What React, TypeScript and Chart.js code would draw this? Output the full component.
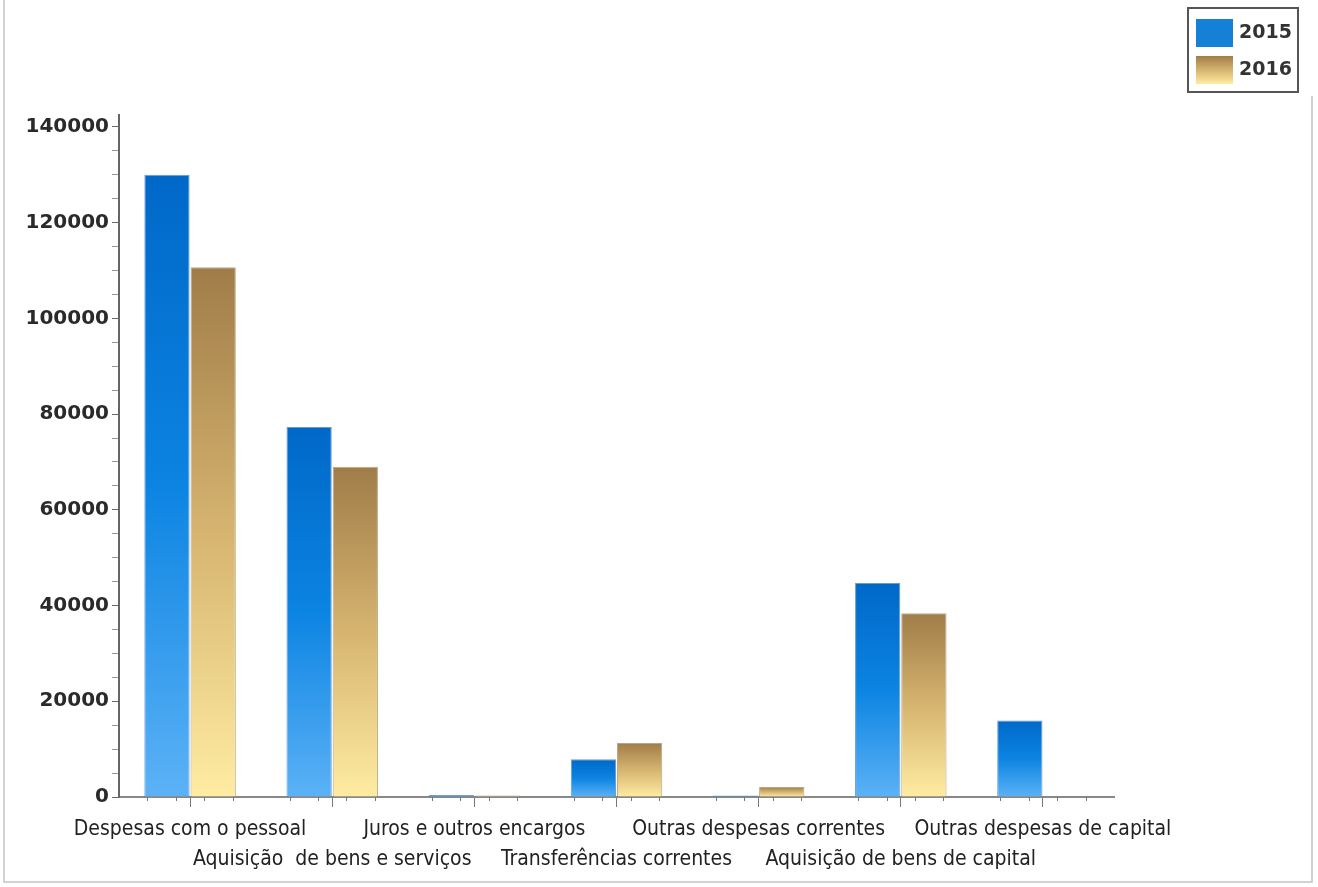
import React, { useEffect, useRef } from "react";
import { Chart, registerables } from "chart.js";

Chart.register(...registerables);

const categories: string[] = [
  "Despesas com o pessoal",
  "Aquisição  de bens e serviços",
  "Juros e outros encargos",
  "Transferências correntes",
  "Outras despesas correntes",
  "Aquisição de bens de capital",
  "Outras despesas de capital",
];

const values2015: number[] = [130000, 77300, 400, 7900, 300, 44700, 16000];
const values2016: number[] = [110700, 69000, 300, 11300, 2100, 38400, 0];

const seriesNames: string[] = ["2015", "2016"];
const yMax = 142500;
const yStepMajor = 20000;
const yStepMinor = 5000;

const blueStops: [number, string][] = [
  [0, "rgb(0,104,200)"],
  [0.5, "rgb(12,132,226)"],
  [1, "rgb(92,178,246)"],
];
const goldStops: [number, string][] = [
  [0, "rgb(160,124,72)"],
  [0.5, "rgb(214,180,112)"],
  [1, "rgb(255,236,162)"],
];

function gradientFill(stops: [number, string][], solid: string) {
  return (ctx: any) => {
    const chart = ctx.chart;
    const y = chart.scales && chart.scales.y;
    if (!y || ctx.type !== "data") return solid;
    const v = ctx.raw as number;
    const top = y.getPixelForValue(v);
    const bot = y.getPixelForValue(0);
    if (!isFinite(top) || !isFinite(bot) || Math.abs(bot - top) < 1) return solid;
    const g = chart.ctx.createLinearGradient(0, top, 0, bot);
    stops.forEach(([o, c]) => g.addColorStop(o, c));
    return g;
  };
}

const framePlugin = {
  id: "frame",
  beforeDraw(chart: any) {
    const c = chart.ctx;
    c.save();
    c.strokeStyle = "#c4c4c4";
    c.lineWidth = 1.5;
    c.beginPath();
    c.moveTo(4, 0);
    c.lineTo(4, 882);
    c.lineTo(1312, 882);
    c.lineTo(1312, 96);
    c.stroke();
    c.restore();
  },
  afterDraw(chart: any) {
    const c = chart.ctx;
    const x = chart.scales.x;
    const y = chart.scales.y;
    c.save();
    // x minor ticks
    c.strokeStyle = "#777";
    c.lineWidth = 1;
    const n = categories.length;
    const step = (x.right - x.left) / n;
    for (let i = 0; i < n; i++) {
      for (let k = 1; k < 5; k++) {
        const px = Math.round(x.left + step * i + (step * k) / 5) + 0.5;
        c.beginPath();
        c.moveTo(px, y.bottom);
        c.lineTo(px, y.bottom + 4);
        c.stroke();
      }
    }
    // legend
    const bx = 1188, by = 8, bw = 110, bh = 84;
    c.fillStyle = "#ffffff";
    c.fillRect(bx, by, bw, bh);
    c.strokeStyle = "#555";
    c.lineWidth = 2;
    c.strokeRect(bx, by, bw, bh);
    const sw = [
      { y: 19, stops: blueStops, name: seriesNames[0] },
      { y: 56, stops: goldStops, name: seriesNames[1] },
    ];
    sw.forEach((s, i) => {
      if (i === 0) {
        c.fillStyle = "rgb(20,128,214)";
      } else {
        const g = c.createLinearGradient(0, s.y, 0, s.y + 28);
        s.stops.forEach(([o, col]) => g.addColorStop(o, col));
        c.fillStyle = g;
      }
      c.fillRect(1196, s.y, 37, 28);
      c.fillStyle = "#333";
      c.font = "bold 19px 'DejaVu Sans'";
      c.textBaseline = "middle";
      c.textAlign = "left";
      c.fillText(s.name, 1239, s.y + 14);
    });
    c.restore();
  },
};

export default function App() {
  const ref = useRef<HTMLCanvasElement | null>(null);
  useEffect(() => {
    if (!ref.current) return;
    const labels = categories.map((c, i) => (i % 2 === 0 ? c : ["", c]));
    const chart = new Chart(ref.current, {
      type: "bar",
      data: {
        labels,
        datasets: [
          {
            label: seriesNames[0],
            data: values2015,
            backgroundColor: gradientFill(blueStops, "rgb(12,132,226)"),
            borderColor: "rgba(0,90,180,0.6)",
            borderWidth: 1,
            barPercentage: 0.98,
            categoryPercentage: 0.65,
          },
          {
            label: seriesNames[1],
            data: values2016,
            backgroundColor: gradientFill(goldStops, "rgb(214,180,112)"),
            borderColor: "rgba(140,105,55,0.6)",
            borderWidth: 1,
            barPercentage: 0.98,
            categoryPercentage: 0.65,
          },
        ],
      },
      options: {
        animation: false,
        responsive: true,
        maintainAspectRatio: false,
        layout: { padding: { top: 115, right: 204, bottom: 0, left: 0 } },
        plugins: { legend: { display: false }, tooltip: { enabled: false } },
        scales: {
          x: {
            offset: true,
            grid: { display: true, drawOnChartArea: false, offset: false, tickLength: 10, color: "#777" },
            border: { display: true, color: "#888", width: 2 },
            ticks: {
              autoSkip: false,
              maxRotation: 0,
              minRotation: 0,
              padding: 8,
              color: "#222",
              font: { family: "'DejaVu Sans Condensed', 'DejaVu Sans'", size: 21, lineHeight: 1.43 },
            },
            afterFit: (s: any) => {
              s.height = 90;
            },
          },
          y: {
            min: 0,
            max: yMax,
            grid: {
              display: true,
              drawOnChartArea: false,
              tickLength: 7,
              color: (c: any) => (c.tick && c.tick.value % yStepMajor === 0 ? "#666" : "#999"),
            },
            border: { display: true, color: "#666", width: 2 },
            afterBuildTicks: (s: any) => {
              const t = [];
              for (let v = 0; v <= 140000; v += yStepMinor) t.push({ value: v });
              s.ticks = t;
            },
            ticks: {
              autoSkip: false,
              padding: 3,
              color: "#2a2a2a",
              font: { family: "'DejaVu Sans'", size: 20, weight: "bold" },
              callback: (v: any) => (Number(v) % yStepMajor === 0 ? String(v) : ""),
            },
            afterFit: (s: any) => {
              s.width = 119;
            },
          },
        },
      },
      plugins: [framePlugin],
    });
    return () => chart.destroy();
  }, []);
  return (
    <div style={{ position: "fixed", left: 0, top: 0, width: 1318, height: 887, background: "#fff" }}>
      <canvas ref={ref} />
    </div>
  );
}
